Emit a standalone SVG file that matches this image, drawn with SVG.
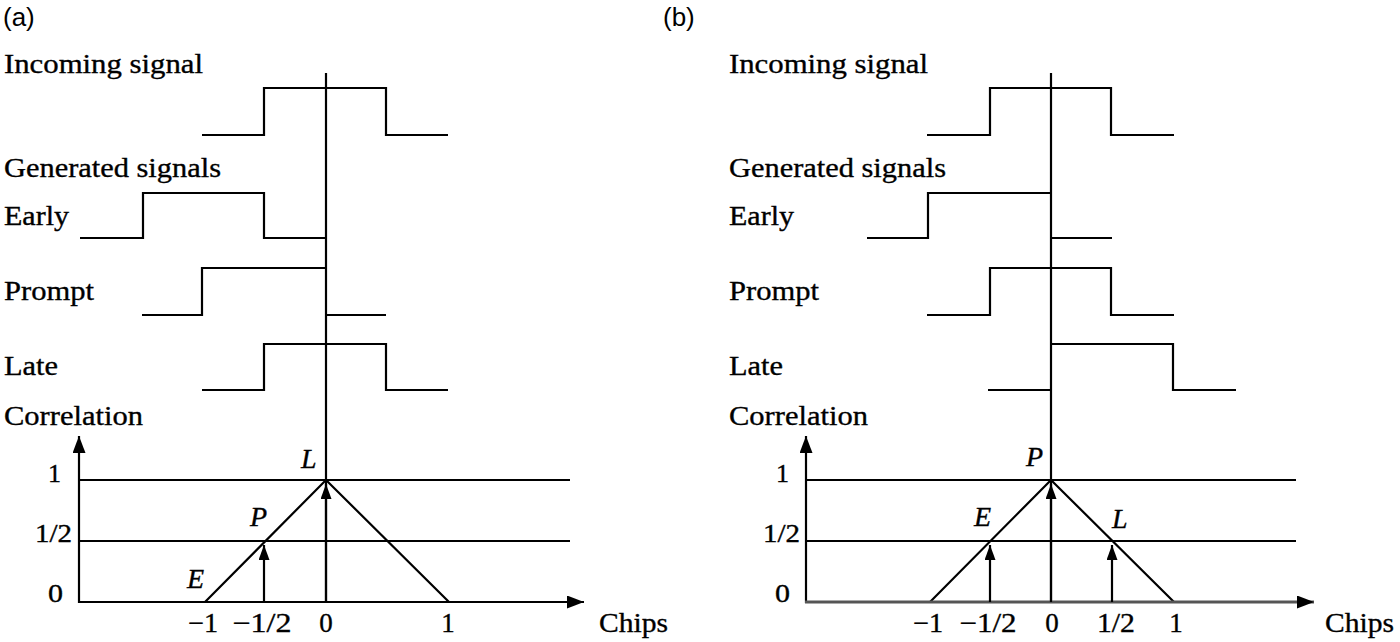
<svg xmlns="http://www.w3.org/2000/svg" width="1400" height="642" viewBox="0 0 1400 642">
<defs>
<style>
.t{font-family:"Liberation Serif","Times New Roman",serif;font-size:28px;fill:#000;stroke:#000;stroke-width:0.35}
.n{font-family:"Liberation Serif","Times New Roman",serif;font-size:27px;fill:#000;stroke:#000;stroke-width:0.35;text-anchor:middle}
.y{font-family:"Liberation Serif","Times New Roman",serif;font-size:25px;fill:#000;stroke:#000;stroke-width:0.35;text-anchor:end}
.i{font-family:"Liberation Serif","Times New Roman",serif;font-size:28px;font-style:italic;fill:#000;stroke:#000;stroke-width:0.35}
.s{font-family:"Liberation Sans",Arial,sans-serif;font-size:26px;fill:#000}
.w{fill:none;stroke:#000;stroke-width:2.2;stroke-linejoin:miter;stroke-linecap:butt}
.g{fill:none;stroke:#555;stroke-width:3}
</style>
<marker id="ah" markerUnits="userSpaceOnUse" markerWidth="17" markerHeight="13" viewBox="0 0 17 13" refX="17" refY="6.5" orient="auto"><path d="M0,0 L17,6.5 L0,13 Z" fill="#000"/></marker>
<marker id="as" markerUnits="userSpaceOnUse" markerWidth="15" markerHeight="11" viewBox="0 0 15 11" refX="15" refY="5.5" orient="auto"><path d="M0,0 L15,5.5 L0,11 Z" fill="#000"/></marker>
</defs>
<rect x="0" y="0" width="1400" height="642" fill="#fff"/>

<!-- Panel (a) -->
<g id="panel-a">
  <text class="s" x="3" y="26">(a)</text>
  <g id="incoming-a">
    <text class="t" x="4" y="73" textLength="199" lengthAdjust="spacingAndGlyphs">Incoming signal</text>
    <path class="w" d="M202,135 H264 V88 H386 V135 H448"/>
  </g>
  <text class="t" x="4" y="177" textLength="217" lengthAdjust="spacingAndGlyphs">Generated signals</text>
  <g id="early-a">
    <text class="t" x="4" y="225" textLength="65" lengthAdjust="spacingAndGlyphs">Early</text>
    <path class="w" d="M80,238 H143 V193 H264 V238 H326"/>
  </g>
  <g id="prompt-a">
    <text class="t" x="4" y="300" textLength="90" lengthAdjust="spacingAndGlyphs">Prompt</text>
    <path class="w" d="M142,315 H202 V268 H326 M326,315 H386"/>
  </g>
  <g id="late-a">
    <text class="t" x="4" y="375" textLength="54" lengthAdjust="spacingAndGlyphs">Late</text>
    <path class="w" d="M202,390 H264 V344 H386 V390 H448"/>
  </g>
  <g id="correlation-a">
    <text class="t" x="4" y="425" textLength="139" lengthAdjust="spacingAndGlyphs">Correlation</text>
    <path class="w" d="M79,480 H570 M79,541 H570"/>
    <path class="w" d="M205,602 L326,480 L449,602"/>
    <text class="y" x="61" y="482" textLength="13" lengthAdjust="spacingAndGlyphs">1</text>
    <text class="y" x="72" y="542" textLength="37" lengthAdjust="spacingAndGlyphs">1/2</text>
    <text class="y" x="63" y="602" textLength="15" lengthAdjust="spacingAndGlyphs">0</text>
    <text class="i" x="301" y="468">L</text>
    <text class="i" x="250" y="526">P</text>
    <text class="i" x="187" y="588">E</text>
    <text class="n" x="203" y="632" textLength="30" lengthAdjust="spacingAndGlyphs">−1</text>
    <text class="n" x="262" y="632" textLength="59" lengthAdjust="spacingAndGlyphs">−1/2</text>
    <text class="n" x="326" y="632">0</text>
    <text class="n" x="448" y="632">1</text>
    <text class="t" x="599" y="632" textLength="69" lengthAdjust="spacingAndGlyphs">Chips</text>
  </g>
</g>

<!-- Panel (b) -->
<g id="panel-b">
  <text class="s" x="663" y="26">(b)</text>
  <g id="incoming-b">
    <text class="t" x="729" y="73" textLength="199" lengthAdjust="spacingAndGlyphs">Incoming signal</text>
    <path class="w" d="M927,135 H990 V88 H1111 V135 H1174"/>
  </g>
  <text class="t" x="729" y="177" textLength="217" lengthAdjust="spacingAndGlyphs">Generated signals</text>
  <g id="early-b">
    <text class="t" x="729" y="225" textLength="65" lengthAdjust="spacingAndGlyphs">Early</text>
    <path class="w" d="M867,238 H928 V193 H1051 M1051,238 H1112"/>
  </g>
  <g id="prompt-b">
    <text class="t" x="729" y="300" textLength="90" lengthAdjust="spacingAndGlyphs">Prompt</text>
    <path class="w" d="M927,315 H990 V268 H1111 V315 H1174"/>
  </g>
  <g id="late-b">
    <text class="t" x="729" y="375" textLength="54" lengthAdjust="spacingAndGlyphs">Late</text>
    <path class="w" d="M988,390 H1051 M1051,344 H1173 V390 H1236"/>
  </g>
  <g id="correlation-b">
    <text class="t" x="729" y="425" textLength="139" lengthAdjust="spacingAndGlyphs">Correlation</text>
    <path class="w" d="M806,480 H1296 M806,541 H1296"/>
    <path class="w" d="M930,602 L1051,480 L1174,602"/>
    <text class="y" x="789" y="482" textLength="13" lengthAdjust="spacingAndGlyphs">1</text>
    <text class="y" x="800" y="542" textLength="37" lengthAdjust="spacingAndGlyphs">1/2</text>
    <text class="y" x="790" y="602" textLength="15" lengthAdjust="spacingAndGlyphs">0</text>
    <text class="i" x="1026" y="466">P</text>
    <text class="i" x="974" y="526">E</text>
    <text class="i" x="1112" y="528">L</text>
    <text class="n" x="928" y="632" textLength="30" lengthAdjust="spacingAndGlyphs">−1</text>
    <text class="n" x="988" y="632" textLength="57" lengthAdjust="spacingAndGlyphs">−1/2</text>
    <text class="n" x="1052" y="632">0</text>
    <text class="n" x="1116" y="632" textLength="38" lengthAdjust="spacingAndGlyphs">1/2</text>
    <text class="n" x="1176" y="632">1</text>
    <text class="t" x="1325" y="632" textLength="69" lengthAdjust="spacingAndGlyphs">Chips</text>
  </g>
</g>

<!-- Connectors: axes, time reference lines and correlation arrows -->
<g id="connectors">
  <path class="w" d="M326,73 V602"/>
  <path class="w" d="M1051,73 V602"/>
  <line class="w" x1="79" y1="603" x2="79" y2="436" marker-end="url(#ah)"/>
  <line class="w" x1="78" y1="602" x2="584" y2="602" marker-end="url(#ah)"/>
  <line class="w" x1="264" y1="602" x2="264" y2="545" marker-end="url(#as)"/>
  <line class="w" x1="326" y1="602" x2="326" y2="484" marker-end="url(#as)"/>
  <line class="w" x1="806" y1="603" x2="806" y2="436" marker-end="url(#ah)"/>
  <line class="g" x1="805" y1="602" x2="1314" y2="602" marker-end="url(#ah)"/>
  <line class="w" x1="990" y1="602" x2="990" y2="545" marker-end="url(#as)"/>
  <line class="w" x1="1051" y1="602" x2="1051" y2="484" marker-end="url(#as)"/>
  <line class="w" x1="1112" y1="602" x2="1112" y2="545" marker-end="url(#as)"/>
</g>
</svg>
